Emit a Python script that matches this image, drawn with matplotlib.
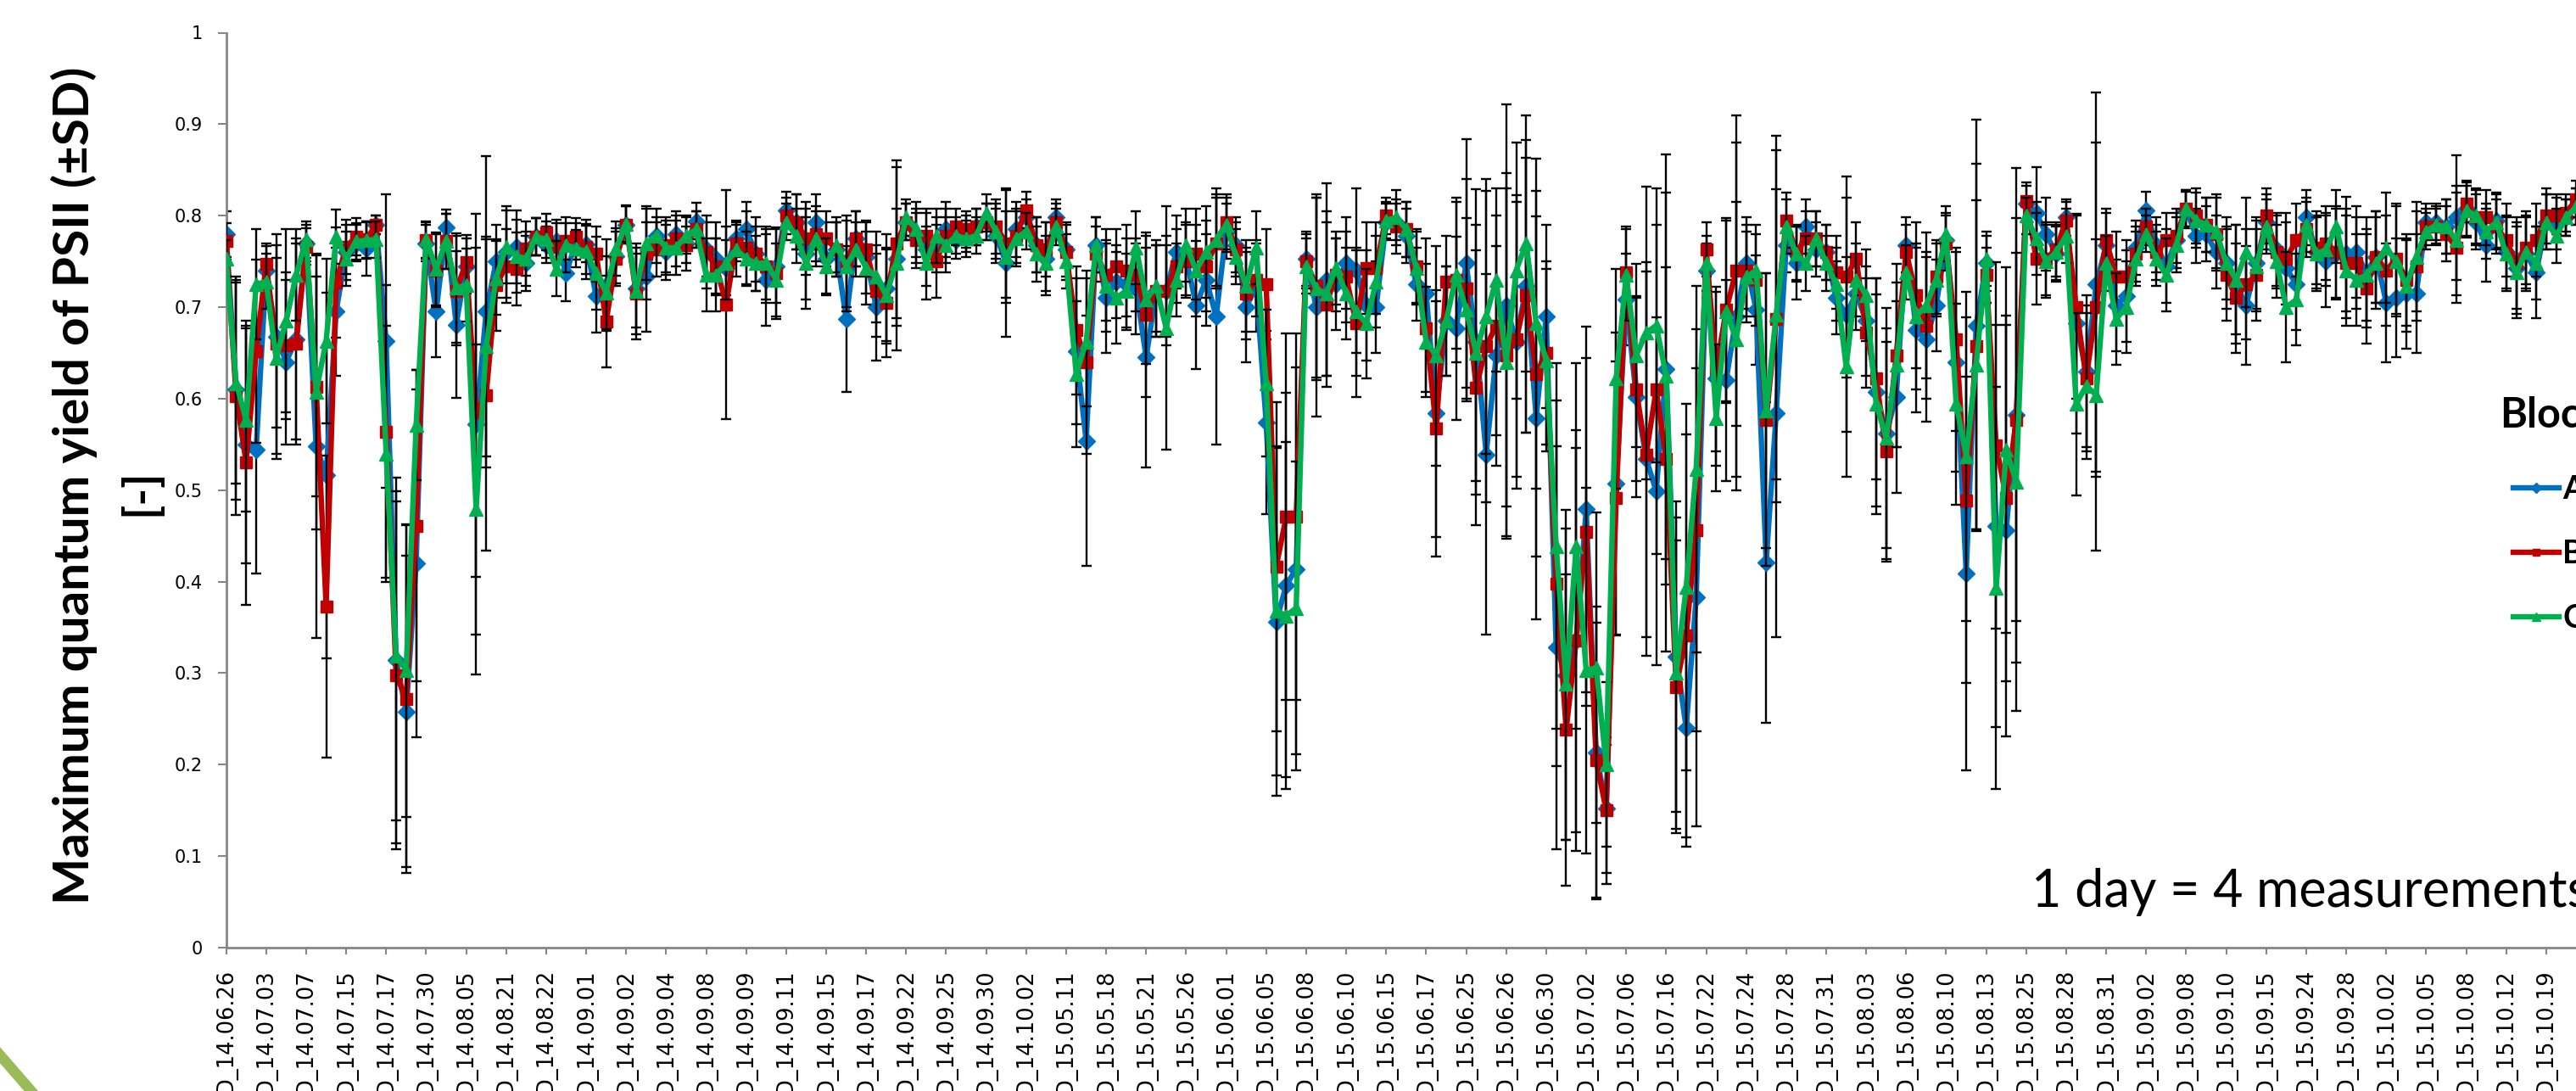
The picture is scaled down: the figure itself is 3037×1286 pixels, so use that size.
import matplotlib
matplotlib.use("Agg")
import matplotlib.pyplot as plt
from matplotlib.lines import Line2D
import numpy as np

# --- data (4 measurements per day, one label per day) ---
day_labels = ["D_14.06.26", "D_14.07.03", "D_14.07.07", "D_14.07.15", "D_14.07.17", "D_14.07.30",
              "D_14.08.05", "D_14.08.21", "D_14.08.22", "D_14.09.01", "D_14.09.02", "D_14.09.04",
              "D_14.09.08", "D_14.09.09", "D_14.09.11", "D_14.09.15", "D_14.09.17", "D_14.09.22",
              "D_14.09.25", "D_14.09.30", "D_14.10.02", "D_15.05.11", "D_15.05.18", "D_15.05.21",
              "D_15.05.26", "D_15.06.01", "D_15.06.05", "D_15.06.08", "D_15.06.10", "D_15.06.15",
              "D_15.06.17", "D_15.06.25", "D_15.06.26", "D_15.06.30", "D_15.07.02", "D_15.07.06",
              "D_15.07.16", "D_15.07.22", "D_15.07.24", "D_15.07.28", "D_15.07.31", "D_15.08.03",
              "D_15.08.06", "D_15.08.10", "D_15.08.13", "D_15.08.25", "D_15.08.28", "D_15.08.31",
              "D_15.09.02", "D_15.09.08", "D_15.09.10", "D_15.09.15", "D_15.09.24", "D_15.09.28",
              "D_15.10.02", "D_15.10.05", "D_15.10.08", "D_15.10.12", "D_15.10.19"]

block_a = [0.78, 0.61, 0.55, 0.544, 0.74, 0.668, 0.64, 0.665, 0.77, 0.548, 0.516, 0.695, 0.76, 0.77, 0.764, 0.79, 0.663, 0.314, 0.258, 0.42,
           0.77, 0.695, 0.787, 0.681, 0.745, 0.572, 0.695, 0.75, 0.76, 0.766, 0.748, 0.777, 0.768, 0.772, 0.737, 0.772, 0.769, 0.712, 0.724, 0.756,
           0.79, 0.72, 0.733, 0.778, 0.76, 0.78, 0.77, 0.794, 0.763, 0.753, 0.743, 0.775, 0.785, 0.758, 0.73, 0.745, 0.806, 0.793, 0.758, 0.793,
           0.753, 0.763, 0.687, 0.775, 0.755, 0.70, 0.72, 0.753, 0.793, 0.778, 0.763, 0.768, 0.785, 0.773, 0.78, 0.788, 0.793, 0.778, 0.748, 0.785,
           0.798, 0.768, 0.753, 0.798, 0.763, 0.652, 0.554, 0.768, 0.71, 0.728, 0.725, 0.72, 0.645, 0.718, 0.718, 0.76, 0.753, 0.702, 0.73, 0.69,
           0.783, 0.768, 0.70, 0.723, 0.574, 0.356, 0.396, 0.414, 0.753, 0.70, 0.73, 0.725, 0.748, 0.74, 0.702, 0.70, 0.793, 0.793, 0.778, 0.725,
           0.715, 0.584, 0.685, 0.677, 0.748, 0.662, 0.539, 0.647, 0.702, 0.662, 0.723, 0.579, 0.69, 0.328, 0.298, 0.336, 0.479, 0.213, 0.152, 0.507,
           0.708, 0.602, 0.534, 0.499, 0.632, 0.318, 0.24, 0.383, 0.74, 0.622, 0.62, 0.69, 0.748, 0.697, 0.421, 0.584, 0.768, 0.748, 0.788, 0.763,
           0.76, 0.71, 0.692, 0.715, 0.685, 0.607, 0.562, 0.602, 0.768, 0.675, 0.665, 0.702, 0.773, 0.64, 0.409, 0.68, 0.748, 0.461, 0.456, 0.582,
           0.813, 0.803, 0.78, 0.758, 0.798, 0.682, 0.63, 0.725, 0.768, 0.702, 0.712, 0.765, 0.806, 0.768, 0.745, 0.773, 0.806, 0.778, 0.78, 0.76,
           0.748, 0.725, 0.702, 0.748, 0.793, 0.763, 0.743, 0.725, 0.798, 0.76, 0.75, 0.758, 0.758, 0.76, 0.738, 0.755, 0.705, 0.71, 0.715, 0.715,
           0.793, 0.793, 0.788, 0.798, 0.808, 0.793, 0.768, 0.795, 0.76, 0.743, 0.758, 0.738, 0.793, 0.793, 0.798, 0.81]

block_b = [0.772, 0.603, 0.53, 0.652, 0.747, 0.66, 0.658, 0.66, 0.766, 0.613, 0.373, 0.727, 0.766, 0.777, 0.774, 0.79, 0.564, 0.298, 0.272, 0.461,
           0.773, 0.74, 0.772, 0.718, 0.749, 0.585, 0.604, 0.724, 0.745, 0.742, 0.764, 0.777, 0.782, 0.766, 0.772, 0.777, 0.766, 0.758, 0.684, 0.753,
           0.79, 0.715, 0.758, 0.763, 0.768, 0.775, 0.768, 0.785, 0.76, 0.745, 0.703, 0.77, 0.765, 0.758, 0.745, 0.737, 0.80, 0.793, 0.775, 0.78,
           0.775, 0.763, 0.75, 0.775, 0.763, 0.718, 0.705, 0.77, 0.793, 0.773, 0.778, 0.75, 0.778, 0.788, 0.785, 0.788, 0.793, 0.788, 0.77, 0.778,
           0.806, 0.768, 0.763, 0.793, 0.76, 0.675, 0.64, 0.758, 0.735, 0.745, 0.74, 0.735, 0.692, 0.718, 0.718, 0.745, 0.75, 0.758, 0.745, 0.77,
           0.793, 0.763, 0.715, 0.73, 0.725, 0.416, 0.471, 0.471, 0.75, 0.723, 0.703, 0.735, 0.733, 0.682, 0.743, 0.743, 0.80, 0.788, 0.785, 0.745,
           0.677, 0.567, 0.728, 0.73, 0.72, 0.612, 0.657, 0.68, 0.647, 0.665, 0.713, 0.627, 0.65, 0.398, 0.238, 0.336, 0.454, 0.205, 0.15, 0.491,
           0.738, 0.61, 0.539, 0.61, 0.534, 0.285, 0.341, 0.456, 0.763, 0.632, 0.697, 0.74, 0.74, 0.73, 0.577, 0.687, 0.795, 0.76, 0.775, 0.775,
           0.76, 0.738, 0.733, 0.753, 0.672, 0.622, 0.542, 0.647, 0.76, 0.713, 0.68, 0.733, 0.77, 0.665, 0.489, 0.657, 0.735, 0.549, 0.491, 0.577,
           0.816, 0.753, 0.753, 0.763, 0.795, 0.70, 0.622, 0.70, 0.773, 0.733, 0.733, 0.758, 0.788, 0.76, 0.773, 0.778, 0.808, 0.80, 0.79, 0.78,
           0.735, 0.71, 0.725, 0.735, 0.80, 0.76, 0.753, 0.773, 0.785, 0.765, 0.77, 0.76, 0.748, 0.748, 0.72, 0.755, 0.74, 0.753, 0.73, 0.745,
           0.788, 0.788, 0.78, 0.765, 0.813, 0.798, 0.798, 0.788, 0.773, 0.748, 0.765, 0.773, 0.80, 0.80, 0.803, 0.818]

block_c = [0.753, 0.617, 0.577, 0.725, 0.728, 0.644, 0.685, 0.735, 0.774, 0.607, 0.663, 0.777, 0.753, 0.772, 0.773, 0.774, 0.54, 0.319, 0.303, 0.571,
           0.774, 0.742, 0.772, 0.721, 0.724, 0.479, 0.657, 0.732, 0.766, 0.756, 0.753, 0.777, 0.774, 0.742, 0.768, 0.764, 0.761, 0.737, 0.716, 0.764,
           0.791, 0.718, 0.77, 0.778, 0.765, 0.765, 0.778, 0.785, 0.735, 0.735, 0.748, 0.763, 0.753, 0.748, 0.748, 0.73, 0.793, 0.778, 0.748, 0.775,
           0.745, 0.768, 0.745, 0.763, 0.743, 0.733, 0.713, 0.748, 0.798, 0.785, 0.748, 0.778, 0.768, 0.778, 0.775, 0.778, 0.803, 0.783, 0.755, 0.775,
           0.783, 0.758, 0.748, 0.788, 0.75, 0.627, 0.662, 0.768, 0.723, 0.71, 0.718, 0.765, 0.708, 0.723, 0.677, 0.73, 0.768, 0.74, 0.76, 0.773,
           0.79, 0.755, 0.723, 0.765, 0.617, 0.368, 0.363, 0.371, 0.745, 0.72, 0.715, 0.743, 0.715, 0.695, 0.682, 0.728, 0.795, 0.798, 0.785, 0.743,
           0.662, 0.647, 0.685, 0.735, 0.697, 0.65, 0.69, 0.73, 0.64, 0.74, 0.77, 0.682, 0.642, 0.439, 0.288, 0.439, 0.303, 0.306, 0.20, 0.622,
           0.735, 0.647, 0.672, 0.68, 0.625, 0.30, 0.394, 0.523, 0.748, 0.579, 0.695, 0.665, 0.733, 0.74, 0.587, 0.692, 0.788, 0.758, 0.748, 0.775,
           0.748, 0.725, 0.635, 0.73, 0.713, 0.594, 0.557, 0.637, 0.738, 0.69, 0.702, 0.73, 0.78, 0.594, 0.537, 0.637, 0.753, 0.393, 0.544, 0.509,
           0.80, 0.775, 0.75, 0.76, 0.778, 0.594, 0.614, 0.604, 0.748, 0.687, 0.70, 0.753, 0.78, 0.753, 0.735, 0.768, 0.808, 0.795, 0.79, 0.783,
           0.748, 0.73, 0.76, 0.745, 0.788, 0.75, 0.70, 0.708, 0.79, 0.758, 0.763, 0.788, 0.74, 0.73, 0.735, 0.748, 0.765, 0.75, 0.723, 0.755,
           0.783, 0.79, 0.788, 0.773, 0.806, 0.80, 0.783, 0.793, 0.758, 0.738, 0.76, 0.748, 0.793, 0.778, 0.798, 0.81]

sd_a = [0.025, 0.12, 0.13, 0.135, 0.03, 0.10, 0.09, 0.11, 0.02, 0.21, 0.20, 0.07, 0.03, 0.02, 0.03, 0.01, 0.16, 0.20, 0.17, 0.19,
        0.02, 0.05, 0.02, 0.08, 0.03, 0.23, 0.17, 0.04, 0.05, 0.04, 0.03, 0.02, 0.02, 0.02, 0.03, 0.02, 0.02, 0.04, 0.05, 0.03,
        0.02, 0.05, 0.06, 0.02, 0.03, 0.02, 0.03, 0.02, 0.03, 0.04, 0.03, 0.02, 0.03, 0.04, 0.05, 0.04, 0.02, 0.03, 0.05, 0.03,
        0.04, 0.03, 0.08, 0.03, 0.04, 0.058, 0.06, 0.10, 0.02, 0.03, 0.04, 0.03, 0.03, 0.02, 0.02, 0.02, 0.02, 0.03, 0.08, 0.03,
        0.02, 0.03, 0.04, 0.02, 0.03, 0.08, 0.137, 0.03, 0.06, 0.04, 0.05, 0.05, 0.12, 0.05, 0.06, 0.04, 0.04, 0.07, 0.05, 0.14,
        0.03, 0.03, 0.06, 0.05, 0.10, 0.19, 0.21, 0.22, 0.03, 0.12, 0.105, 0.05, 0.05, 0.09, 0.06, 0.05, 0.02, 0.02, 0.03, 0.04,
        0.06, 0.135, 0.06, 0.10, 0.136, 0.167, 0.197, 0.12, 0.22, 0.16, 0.16, 0.22, 0.10, 0.22, 0.18, 0.23, 0.20, 0.16, 0.07, 0.165,
        0.05, 0.11, 0.215, 0.19, 0.235, 0.17, 0.13, 0.25, 0.03, 0.095, 0.11, 0.19, 0.05, 0.06, 0.175, 0.245, 0.03, 0.04, 0.03, 0.03,
        0.03, 0.04, 0.128, 0.04, 0.06, 0.125, 0.137, 0.105, 0.03, 0.09, 0.09, 0.05, 0.03, 0.12, 0.215, 0.225, 0.03, 0.22, 0.225, 0.27,
        0.02, 0.05, 0.04, 0.03, 0.02, 0.12, 0.083, 0.21, 0.04, 0.05, 0.05, 0.03, 0.02, 0.03, 0.04, 0.03, 0.02, 0.03, 0.03, 0.04,
        0.05, 0.065, 0.065, 0.05, 0.03, 0.04, 0.05, 0.05, 0.03, 0.04, 0.05, 0.05, 0.063, 0.05, 0.06, 0.05, 0.065, 0.065, 0.06, 0.065,
        0.02, 0.02, 0.03, 0.068, 0.03, 0.03, 0.04, 0.03, 0.04, 0.05, 0.04, 0.05, 0.03, 0.03, 0.02, 0.02]

sd_b = [0.02, 0.13, 0.155, 0.10, 0.02, 0.12, 0.08, 0.11, 0.02, 0.12, 0.165, 0.06, 0.03, 0.02, 0.02, 0.01, 0.16, 0.19, 0.19, 0.17,
        0.02, 0.04, 0.03, 0.06, 0.03, 0.18, 0.17, 0.05, 0.04, 0.04, 0.03, 0.02, 0.02, 0.03, 0.02, 0.02, 0.03, 0.03, 0.05, 0.03,
        0.02, 0.05, 0.05, 0.03, 0.03, 0.03, 0.02, 0.02, 0.04, 0.03, 0.125, 0.02, 0.04, 0.03, 0.04, 0.05, 0.02, 0.03, 0.04, 0.03,
        0.03, 0.03, 0.05, 0.03, 0.03, 0.05, 0.06, 0.09, 0.02, 0.03, 0.03, 0.04, 0.03, 0.02, 0.02, 0.02, 0.02, 0.03, 0.06, 0.03,
        0.02, 0.03, 0.03, 0.02, 0.03, 0.07, 0.10, 0.03, 0.05, 0.04, 0.05, 0.04, 0.09, 0.05, 0.05, 0.04, 0.04, 0.05, 0.05, 0.05,
        0.03, 0.03, 0.05, 0.04, 0.06, 0.18, 0.20, 0.20, 0.03, 0.10, 0.09, 0.04, 0.05, 0.08, 0.05, 0.05, 0.02, 0.03, 0.03, 0.04,
        0.07, 0.14, 0.05, 0.09, 0.12, 0.15, 0.17, 0.12, 0.20, 0.15, 0.15, 0.20, 0.10, 0.20, 0.17, 0.21, 0.19, 0.15, 0.08, 0.15,
        0.05, 0.10, 0.20, 0.18, 0.21, 0.16, 0.22, 0.22, 0.03, 0.09, 0.10, 0.17, 0.05, 0.05, 0.16, 0.20, 0.03, 0.03, 0.03, 0.03,
        0.03, 0.04, 0.11, 0.04, 0.06, 0.11, 0.12, 0.10, 0.03, 0.08, 0.08, 0.04, 0.03, 0.10, 0.20, 0.20, 0.03, 0.20, 0.20, 0.22,
        0.02, 0.05, 0.04, 0.03, 0.02, 0.10, 0.08, 0.18, 0.03, 0.05, 0.04, 0.03, 0.02, 0.03, 0.03, 0.03, 0.02, 0.03, 0.03, 0.04,
        0.05, 0.06, 0.06, 0.05, 0.03, 0.04, 0.05, 0.04, 0.03, 0.04, 0.04, 0.05, 0.06, 0.05, 0.06, 0.05, 0.06, 0.06, 0.05, 0.06,
        0.02, 0.02, 0.03, 0.06, 0.02, 0.03, 0.03, 0.03, 0.04, 0.05, 0.04, 0.04, 0.03, 0.02, 0.02, 0.02]

sd_c = [0.02, 0.11, 0.10, 0.06, 0.03, 0.11, 0.10, 0.05, 0.02, 0.15, 0.09, 0.03, 0.03, 0.02, 0.02, 0.02, 0.14, 0.18, 0.16, 0.06,
        0.02, 0.04, 0.03, 0.06, 0.04, 0.18, 0.12, 0.04, 0.04, 0.04, 0.03, 0.02, 0.02, 0.03, 0.03, 0.02, 0.03, 0.04, 0.04, 0.03,
        0.02, 0.04, 0.04, 0.03, 0.03, 0.03, 0.02, 0.02, 0.04, 0.04, 0.04, 0.03, 0.03, 0.03, 0.04, 0.04, 0.02, 0.03, 0.05, 0.03,
        0.03, 0.03, 0.05, 0.03, 0.04, 0.05, 0.05, 0.06, 0.02, 0.03, 0.04, 0.03, 0.03, 0.02, 0.02, 0.02, 0.02, 0.03, 0.05, 0.03,
        0.02, 0.03, 0.03, 0.02, 0.03, 0.08, 0.07, 0.03, 0.05, 0.05, 0.04, 0.04, 0.07, 0.05, 0.133, 0.04, 0.04, 0.05, 0.05, 0.05,
        0.03, 0.03, 0.05, 0.04, 0.08, 0.18, 0.19, 0.16, 0.03, 0.10, 0.09, 0.04, 0.05, 0.07, 0.06, 0.05, 0.02, 0.03, 0.03, 0.04,
        0.06, 0.12, 0.06, 0.08, 0.10, 0.14, 0.15, 0.10, 0.19, 0.14, 0.14, 0.18, 0.10, 0.20, 0.17, 0.20, 0.20, 0.17, 0.09, 0.12,
        0.05, 0.10, 0.16, 0.15, 0.20, 0.17, 0.20, 0.20, 0.03, 0.08, 0.10, 0.15, 0.05, 0.05, 0.15, 0.18, 0.03, 0.03, 0.03, 0.03,
        0.03, 0.04, 0.12, 0.04, 0.05, 0.12, 0.12, 0.09, 0.03, 0.08, 0.08, 0.04, 0.03, 0.11, 0.18, 0.18, 0.03, 0.22, 0.20, 0.25,
        0.02, 0.04, 0.04, 0.03, 0.03, 0.10, 0.08, 0.17, 0.03, 0.05, 0.05, 0.03, 0.02, 0.03, 0.04, 0.03, 0.02, 0.03, 0.03, 0.04,
        0.04, 0.06, 0.06, 0.05, 0.03, 0.04, 0.06, 0.05, 0.03, 0.04, 0.04, 0.04, 0.06, 0.05, 0.05, 0.05, 0.06, 0.06, 0.05, 0.06,
        0.02, 0.02, 0.03, 0.06, 0.03, 0.03, 0.03, 0.03, 0.04, 0.05, 0.04, 0.04, 0.03, 0.03, 0.02, 0.02]

series_names = ["A", "B", "C"]
series_colors = ["#0070C0", "#C00000", "#00B050"]
series_markers = ["D", "s", "^"]
marker_sizes = [10.5, 10.5, 12]

W, H = 3037, 1286
fig = plt.figure(figsize=(W / 100, H / 100), dpi=100)

# the plot area runs past the right edge (the reference is a cropped slide)
step_px = 11.79
x_max = 245
ax = fig.add_axes([266.6 / W, 169 / H, x_max * step_px / W, 1078.5 / H])

x = np.arange(len(block_a))
values = [block_a, block_b, block_c]
errors = [sd_a, sd_b, sd_c]
handles = []
for k in range(3):
    ax.errorbar(x, values[k], yerr=errors[k], fmt="none", ecolor="black",
                elinewidth=1.7, capsize=4, capthick=1.7, zorder=2 + 2 * k)
    ln, = ax.plot(x, values[k], color=series_colors[k], marker=series_markers[k],
                  markersize=marker_sizes[k], linewidth=4.6, zorder=3 + 2 * k,
                  label=series_names[k])
    handles.append(ln)

ax.set_xlim(0, x_max)
ax.set_ylim(0, 1)
ax.set_yticks(np.arange(0, 1.01, 0.1))
ax.set_yticklabels(["0", "0.1", "0.2", "0.3", "0.4", "0.5", "0.6", "0.7", "0.8", "0.9", "1"])
ax.set_xticks(np.arange(0, 4 * len(day_labels), 4))
ax.set_xticklabels(day_labels, rotation=90, fontsize=18.5)
ax.tick_params(axis="y", labelsize=15, length=7, width=1.5, color="#868686", pad=13)
ax.tick_params(axis="x", length=6, width=1.5, color="#868686", pad=12)

for side in ["top", "right"]:
    ax.spines[side].set_visible(False)
for side in ["left", "bottom"]:
    ax.spines[side].set_color("#868686")
    ax.spines[side].set_linewidth(2)

# axis title (two lines as on the slide)
fig.text(87 / W, 1 - 572 / H, "Maximum quantum yield of PSII (\u00b1SD)", rotation=90,
         ha="center", va="center", fontsize=42, fontweight="bold", family=["Lato", "DejaVu Sans"])
fig.text(165 / W, 1 - 580 / H, "[-]", rotation=90, ha="center", va="center",
         fontsize=40, fontweight="bold", family=["Lato", "DejaVu Sans"])

# legend (cut off at the right edge)
fig.text(2947 / W, 1 - 490 / H, "Block", ha="left", va="center", fontsize=35,
         fontweight="bold", family=["Lato", "DejaVu Sans"])
fig.legend(handles=handles, loc="upper left", bbox_to_anchor=(2963 / W, 1 - 560 / H),
           frameon=False, borderpad=0, borderaxespad=0, handlelength=1.45,
           handletextpad=0.1, labelspacing=1.12, markerscale=0.55,
           prop={"family": ["Lato", "DejaVu Sans"], "weight": "bold", "size": 27})

fig.text(2395 / W, 1 - 1052 / H, "1 day = 4 measurements", ha="left", va="center",
         fontsize=44, family=["Lato", "DejaVu Sans"])

# green decoration from the slide template, bottom-left corner
fig.add_artist(Line2D([-5 / W, 42 / W], [1 - 1238 / H, 1 - 1292 / H],
                      transform=fig.transFigure, color="#9BBB59", linewidth=9))

fig.savefig("out.png", dpi=100)
